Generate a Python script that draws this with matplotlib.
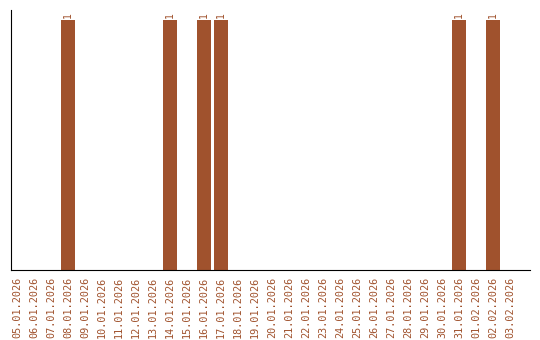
import matplotlib.pyplot as plt

dates = ["05.01.2026", "06.01.2026", "07.01.2026", "08.01.2026", "09.01.2026",
         "10.01.2026", "11.01.2026", "12.01.2026", "13.01.2026", "14.01.2026",
         "15.01.2026", "16.01.2026", "17.01.2026", "18.01.2026", "19.01.2026",
         "20.01.2026", "21.01.2026", "22.01.2026", "23.01.2026", "24.01.2026",
         "25.01.2026", "26.01.2026", "27.01.2026", "28.01.2026", "29.01.2026",
         "30.01.2026", "31.01.2026", "01.02.2026", "02.02.2026", "03.02.2026"]
counts = [0, 0, 0, 1, 0, 0, 0, 0, 0, 1,
          0, 1, 1, 0, 0, 0, 0, 0, 0, 0,
          0, 0, 0, 0, 0, 0, 1, 0, 1, 0]

color = "#A0522D"

fig = plt.figure(figsize=(5.4, 3.4), dpi=100)
ax = fig.add_axes([11 / 540, 70 / 340, 519 / 540, 260 / 340])

xs = range(len(dates))
ax.bar(xs, counts, width=0.82, color=color)
for x, c in zip(xs, counts):
    if c > 0:
        ax.text(x, c + 0.01, str(c), rotation=90, ha="center", va="bottom",
                fontsize=7, color=color, family="DejaVu Sans Mono")

ax.set_xlim(-0.35, 30.18)
ax.set_ylim(0, 1.04)
ax.set_xticks(list(xs))
ax.set_xticklabels(dates, rotation=90, fontsize=7.3, color=color,
                   family="DejaVu Sans Mono")
ax.tick_params(axis="x", length=0, pad=5)
ax.set_yticks([])
ax.spines["top"].set_visible(False)
ax.spines["right"].set_visible(False)

fig.savefig("out.png")
